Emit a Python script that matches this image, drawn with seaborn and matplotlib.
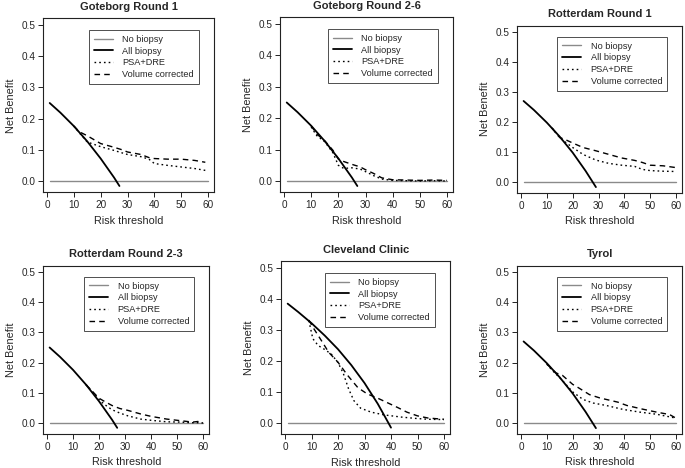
import matplotlib
matplotlib.use("Agg")
import matplotlib.pyplot as plt
import seaborn as sns
import pandas as pd

# ---- data (threshold in %, net benefit) ----
titles = ["Goteborg Round 1", "Goteborg Round 2-6", "Rotterdam Round 1",
          "Rotterdam Round 2-3", "Cleveland Clinic", "Tyrol"]

no_t = [1, 60]
no_nb = [0.0, 0.0]

g1_t_all = [1, 5, 10, 15, 20, 25, 27]
g1_nb_all = [0.250, 0.219, 0.176, 0.127, 0.072, 0.011, -0.016]
g1_t_psa = [10, 12, 15, 20, 25, 28, 30, 35, 38, 40, 45, 50, 55, 59]
g1_nb_psa = [0.176, 0.155, 0.125, 0.110, 0.098, 0.090, 0.085, 0.078, 0.070, 0.056, 0.050, 0.045, 0.040, 0.034]
g1_t_vol = g1_t_psa
g1_nb_vol = [0.176, 0.158, 0.145, 0.120, 0.108, 0.100, 0.093, 0.085, 0.075, 0.072, 0.070, 0.070, 0.066, 0.060]

g2_t_all = [1, 5, 10, 15, 20, 25, 27]
g2_nb_all = [0.250, 0.219, 0.176, 0.127, 0.072, 0.011, -0.016]
g2_t_psa = [10, 12, 15, 18, 20, 22, 25, 28, 30, 33, 36, 40, 45, 50, 55, 60]
g2_nb_psa = [0.172, 0.145, 0.125, 0.090, 0.050, 0.040, 0.042, 0.038, 0.030, 0.017, 0.006, 0.002, 0.001, 0.0, 0.001, 0.0]
g2_t_vol = g2_t_psa
g2_nb_vol = [0.176, 0.150, 0.128, 0.098, 0.070, 0.062, 0.053, 0.045, 0.036, 0.024, 0.010, 0.004, 0.003, 0.002, 0.003, 0.002]

r1_t_all = [1, 5, 10, 15, 20, 25, 29]
r1_nb_all = [0.270, 0.240, 0.198, 0.151, 0.098, 0.037, -0.017]
r1_t_psa = [12, 15, 17, 20, 24, 29, 34, 39, 44, 47, 50, 55, 60]
r1_nb_psa = [0.180, 0.148, 0.134, 0.115, 0.092, 0.073, 0.062, 0.056, 0.052, 0.042, 0.038, 0.036, 0.035]
r1_t_vol = r1_t_psa
r1_nb_vol = [0.180, 0.148, 0.142, 0.130, 0.115, 0.104, 0.092, 0.080, 0.072, 0.065, 0.056, 0.054, 0.048]

r2_t_all = [1, 5, 10, 15, 20, 25, 27]
r2_nb_all = [0.250, 0.219, 0.176, 0.127, 0.072, 0.011, -0.016]
r2_t_psa = [15, 18, 20, 22, 25, 28, 31, 36, 40, 46, 51, 56, 58, 60]
r2_nb_psa = [0.127, 0.098, 0.078, 0.062, 0.044, 0.033, 0.024, 0.013, 0.009, 0.004, 0.003, 0.001, 0.001, 0.0]
r2_t_vol = r2_t_psa
r2_nb_vol = [0.127, 0.100, 0.082, 0.072, 0.058, 0.048, 0.042, 0.030, 0.022, 0.013, 0.008, 0.003, 0.005, 0.001]

cc_t_all = [1, 5, 10, 15, 20, 25, 30, 35, 38, 40]
cc_nb_all = [0.385, 0.358, 0.322, 0.282, 0.238, 0.187, 0.129, 0.062, 0.016, -0.015]
cc_t_psa = [9, 10.5, 12.5, 15, 17.5, 20, 22, 24, 26, 28.5, 32.5, 37.5, 44, 49, 54, 60]
cc_nb_psa = [0.330, 0.272, 0.250, 0.237, 0.222, 0.195, 0.160, 0.110, 0.072, 0.048, 0.035, 0.026, 0.019, 0.015, 0.012, 0.011]
cc_t_vol = [9, 10.6, 13.8, 16.5, 20, 23.5, 27.5, 31, 35, 39, 42.5, 46, 50, 54, 60]
cc_nb_vol = [0.332, 0.308, 0.265, 0.228, 0.196, 0.155, 0.114, 0.094, 0.080, 0.064, 0.050, 0.035, 0.023, 0.016, 0.012]

ty_t_all = [1, 5, 10, 15, 20, 25, 29]
ty_nb_all = [0.270, 0.240, 0.198, 0.151, 0.098, 0.037, -0.017]
ty_t_psa = [10, 12, 15, 18, 20, 24, 28, 33, 39.5, 46, 52.5, 59.5]
ty_nb_psa = [0.195, 0.175, 0.150, 0.122, 0.103, 0.078, 0.066, 0.058, 0.045, 0.036, 0.029, 0.017]
ty_t_vol = [10, 13.5, 16, 20, 22, 26.5, 30.5, 37.5, 41, 47, 52.5, 57.5, 60]
ty_nb_vol = [0.195, 0.166, 0.158, 0.128, 0.118, 0.094, 0.083, 0.069, 0.058, 0.046, 0.036, 0.028, 0.016]

panels = [
    (g1_t_all, g1_nb_all, g1_t_psa, g1_nb_psa, g1_t_vol, g1_nb_vol),
    (g2_t_all, g2_nb_all, g2_t_psa, g2_nb_psa, g2_t_vol, g2_nb_vol),
    (r1_t_all, r1_nb_all, r1_t_psa, r1_nb_psa, r1_t_vol, r1_nb_vol),
    (r2_t_all, r2_nb_all, r2_t_psa, r2_nb_psa, r2_t_vol, r2_nb_vol),
    (cc_t_all, cc_nb_all, cc_t_psa, cc_nb_psa, cc_t_vol, cc_nb_vol),
    (ty_t_all, ty_nb_all, ty_t_psa, ty_nb_psa, ty_t_vol, ty_nb_vol),
]

# pixel positions of ticks 0 / 60 on x and 0.0 / 0.5 on y for each panel
layout = [(47, 208, 181, 25), (284, 447, 181, 24), (521, 676, 182, 32),
          (47, 203, 423, 272), (285, 444, 423, 268), (521, 676, 423, 272)]

W, H = 685, 468
XLIM = (-1.36, 62.36)
YLIM = (-0.036, 0.521)

sns.set_style("ticks")
plt.rcParams['font.family'] = ['Liberation Sans', 'DejaVu Sans']
plt.rcParams['axes.linewidth'] = 0.8
plt.rcParams['axes.edgecolor'] = '#222222'

fig = plt.figure(figsize=(W / 100, H / 100), dpi=100)

for i, (data, pos) in enumerate(zip(panels, layout)):
    t_all, nb_all, t_psa, nb_psa, t_vol, nb_vol = data
    x0, x60, y0, y05 = pos
    sx = (x60 - x0) / 60.0
    sy = (y0 - y05) / 0.5
    left = x0 + XLIM[0] * sx
    right = x0 + XLIM[1] * sx
    top = y05 - (YLIM[1] - 0.5) * sy
    bot = y0 - YLIM[0] * sy
    ax = fig.add_axes([left / W, 1 - bot / H, (right - left) / W, (bot - top) / H])

    sns.lineplot(x=no_t, y=no_nb, ax=ax, color='#8a8a8a', lw=1.0, label='No biopsy')
    sns.lineplot(x=t_all, y=nb_all, ax=ax, color='black', lw=1.3, label='All biopsy')
    sns.lineplot(x=t_psa, y=nb_psa, ax=ax, color='black', lw=1.0,
                 label='PSA+DRE').lines[-1].set_dashes((1.2, 2.2))
    sns.lineplot(x=t_vol, y=nb_vol, ax=ax, color='black', lw=1.0,
                 label='Volume corrected').lines[-1].set_dashes((4, 3))

    ax.set_xlim(*XLIM)
    ax.set_ylim(*YLIM)
    ax.set_xticks([0, 10, 20, 30, 40, 50, 60])
    ax.set_yticks([0.0, 0.1, 0.2, 0.3, 0.4, 0.5])
    ax.set_yticklabels(['0.0', '0.1', '0.2', '0.3', '0.4', '0.5'])
    ax.tick_params(direction='out', length=3.8, width=0.7, labelsize=7.2,
                   color='#222222', pad=2)
    ax.set_xlabel('Risk threshold', fontsize=7.8, labelpad=4)
    ax.set_ylabel('Net Benefit', fontsize=7.8, labelpad=4)
    ax.set_title(titles[i], fontsize=8, fontweight='bold', pad=6)

    leg = ax.legend(loc='upper right', bbox_to_anchor=(0.91, 0.935), fontsize=6.6,
                    frameon=True, fancybox=False, handlelength=2.1,
                    handletextpad=1.0, labelspacing=0.3, borderpad=0.55,
                    borderaxespad=0)
    leg.get_frame().set_edgecolor('#222222')
    leg.get_frame().set_linewidth(0.7)

fig.savefig('out.png', dpi=100)
